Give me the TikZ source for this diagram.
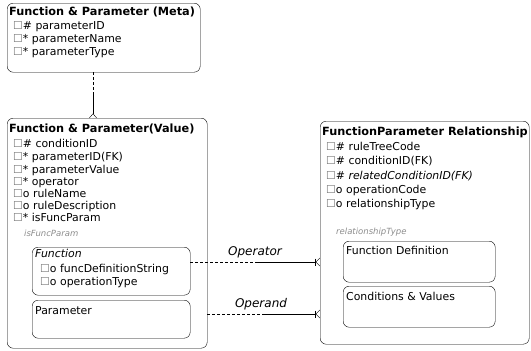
\documentclass[tikz,border=0pt]{standalone}
\usepackage{fontspec}
\setmainfont{DejaVu Sans}
\usepackage{tikz}
\usetikzlibrary{arrows.meta, positioning}

\newcommand{\cb}{{\color{black!55}☐}}

\begin{document}
\begin{tikzpicture}[x=1pt, y=-1pt,
                    entity/.style={
                        draw,
                        thin,
                        rounded corners=6pt,
                        anchor=north west,
                        inner sep=0pt
                    },
                    title/.style={
                        anchor=base west,
                        inner sep=0pt,
                        font=\fontsize{11.3}{13}\selectfont\bfseries
                    },
                    attr/.style={
                        anchor=base west,
                        inner sep=0pt,
                        font=\fontsize{10.9}{13}\selectfont
                    },
                    tag/.style={
                        anchor=base west,
                        inner sep=0pt,
                        text=black!45,
                        font=\fontsize{8.5}{9}\selectfont\itshape
                    },
                    rolename/.style={
                        anchor=base,
                        inner sep=0pt,
                        font=\fontsize{12}{14}\selectfont\itshape
                    },
                    rel/.style={
                        thin,
                        -{Bar[width=7pt] Straight Barb[reversed, length=4pt, width=8pt]}
                    },
                    relopt/.style={
                        thin,
                        densely dashed
                    }
                ]
\useasboundingbox (0,0) rectangle (531,351);

% Meta entity
\node[entity, minimum width=193pt, minimum height=69pt] (meta) at (7,3) {};
\node[title] (metatitle) at (9,15) {Function \& Parameter (Meta)};
\node[attr] (metaid) at (13,29) {\cb\# parameterID};
\node[attr] (metaname) at (13,42) {\cb* parameterName};
\node[attr] (metatype) at (13,55) {\cb* parameterType};

% Value entity
\node[entity, minimum width=200pt, minimum height=230pt] (value) at (7,118) {};
\node[title] (valuetitle) at (9,132) {Function \& Parameter(Value)};
\node[attr] (valcond) at (13,147) {\cb\# conditionID};
\node[attr] (valparam) at (13,160) {\cb* parameterID(FK)};
\node[attr] (valvalue) at (13,173) {\cb* parameterValue};
\node[attr] (valop) at (13,185) {\cb* operator};
\node[attr] (valrule) at (13,197) {\cb o ruleName};
\node[attr] (valdesc) at (13,209) {\cb o ruleDescription};
\node[attr] (valfunc) at (13,221) {\cb* isFuncParam};
\node[tag] (valtag) at (24,236) {isFuncParam};

% Subtypes
\node[entity, minimum width=158pt, minimum height=48pt] (func) at (32,247) {};
\node[attr, font=\fontsize{10.9}{13}\selectfont\itshape] (functitle) at (35,257) {Function};
\node[attr] (funcdefstr) at (40,272) {\cb o funcDefinitionString};
\node[attr] (funcoptype) at (40,285) {\cb o operationType};
\node[entity, minimum width=158pt, minimum height=38pt] (param) at (32,300) {};
\node[attr] (paramtitle) at (35,314) {Parameter};

% Relationship entity
\node[entity, minimum width=209pt, minimum height=223pt] (relation) at (320,121) {};
\node[title] (reltitle) at (322,135) {FunctionParameter Relationship};
\node[attr] (reltree) at (326,150) {\cb\# ruleTreeCode};
\node[attr] (relcond) at (326,164) {\cb\# conditionID(FK)};
\node[attr] (relrelated) at (326,179) {\cb{\itshape\# relatedConditionID(FK)}};
\node[attr] (relopcode) at (326,193) {\cb o operationCode};
\node[attr] (reltype) at (326,207) {\cb o relationshipType};
\node[tag] (reltag) at (336,234) {relationshipType};
\node[entity, minimum width=152pt, minimum height=41pt] (funcdef) at (343,241) {};
\node[attr] (funcdeftitle) at (346,254) {Function Definition};
\node[entity, minimum width=152pt, minimum height=41pt] (condval) at (343,286) {};
\node[attr] (condvaltitle) at (346,300) {Conditions \& Values};

% Relationships
\coordinate (metalink) at (93,95);
\draw[relopt] (meta.south -| metalink) -- (metalink);
\draw[thin, -{Straight Barb[reversed, length=4pt, width=7pt]}] (metalink) -- (value.north -| metalink);

\coordinate (opmid) at (255,262);
\draw[relopt] (func.east |- opmid) -- (opmid);
\draw[rel] (opmid) -- (relation.west |- opmid);
\node[rolename] (oplabel) at (255,255) {Operator};

\coordinate (andmid) at (262,314);
\draw[relopt] (value.east |- andmid) -- (andmid);
\draw[rel] (andmid) -- (relation.west |- andmid);
\node[rolename] (andlabel) at (261,307) {Operand};

\end{tikzpicture}
\end{document}
